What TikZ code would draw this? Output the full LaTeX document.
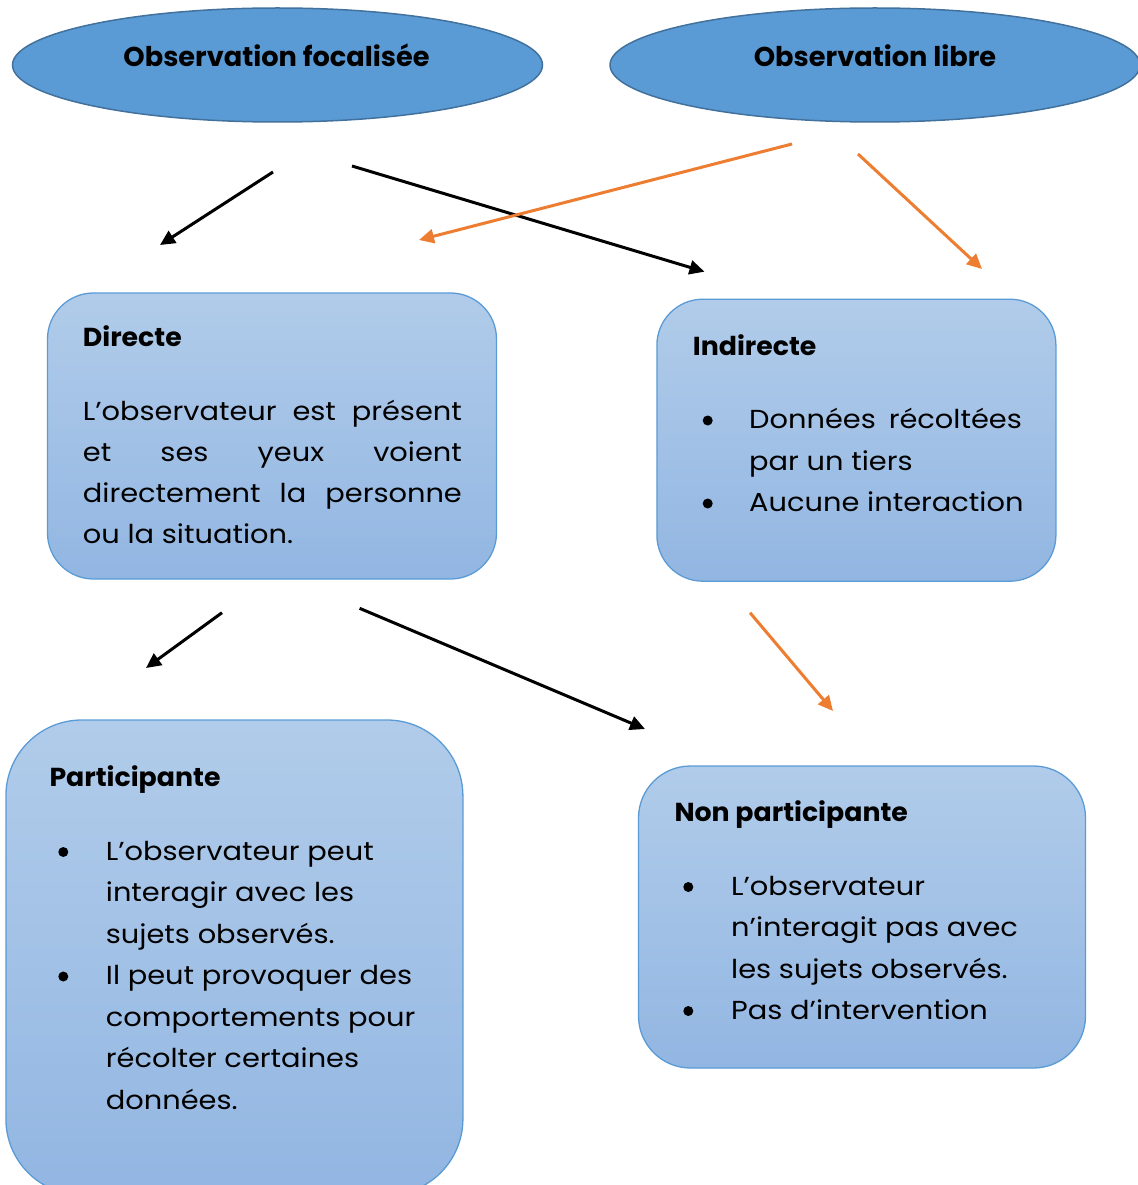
\documentclass[tikz,border=0pt]{standalone}
\usepackage{fontspec}
\setmainfont{Poppins}
\newfontfamily\bodyfont[FakeStretch=1.11]{Poppins}
\newfontfamily\titlefont[FakeStretch=1.03]{Poppins}
\usetikzlibrary{arrows.meta,shapes.geometric}
\definecolor{ellfill}{HTML}{5B9BD5}
\definecolor{elldraw}{HTML}{41719C}
\definecolor{boxtop}{HTML}{B1CCEA}
\definecolor{boxbot}{HTML}{92B6E2}
\definecolor{boxdraw}{HTML}{5B9BD5}
\definecolor{orangearr}{HTML}{ED7D31}
\begin{document}
\begin{tikzpicture}[x=1pt,y=-1pt,
 ellnode/.style={ellipse, draw=elldraw, fill=ellfill, line width=1.5pt, inner sep=0pt},
 boxshape/.style={rectangle, draw=boxdraw, line width=1.3pt, top color=boxtop, bottom color=boxbot, inner sep=0pt},
 elltext/.style={font=\fontsize{27.2}{34}\selectfont\bfseries, anchor=base, inner sep=0pt},
 titletext/.style={font=\titlefont\fontsize{26}{34}\selectfont\bfseries, anchor=base west, inner sep=0pt},
 bodytext/.style={font=\bodyfont\fontsize{26}{41}\selectfont, anchor=base west, inner sep=0pt},
 bulletdot/.style={circle, fill=black, inner sep=0pt, minimum size=10pt},
 blackarrow/.style={draw=black, line width=3pt, -{Triangle[length=15pt,width=14pt]}},
 orangearrow/.style={draw=orangearr, line width=3pt, -{Triangle[length=15pt,width=14pt]}},
]
\useasboundingbox (0,0) rectangle (1137,1185);

% ellipses
\node[ellnode, minimum width=530pt, minimum height=114pt] (focal) at (277.5,65) {};
\node[elltext] (focalt) at (276.5,67) {Observation focalisée};
\node[ellnode, minimum width=530pt, minimum height=114pt] (libre) at (875,65) {};
\node[elltext] (libret) at (875,67) {Observation libre};

% boxes
\node[boxshape, rounded corners=46pt, minimum width=449pt, minimum height=286pt] (directe) at (272,436) {};
\node[boxshape, rounded corners=46pt, minimum width=399pt, minimum height=282pt] (indirecte) at (856.4,440.2) {};
\node[boxshape, rounded corners=76pt, minimum width=457pt, minimum height=475pt] (part) at (234.4,957.5) {};
\node[boxshape, rounded corners=52pt, minimum width=447pt, minimum height=302pt] (nonpart) at (862,917) {};

% Directe text
\node[titletext] (dt) at (82.7,346.7) {Directe};
\node[bodytext] (d1) at (82.7,420) {\makebox[379pt][s]{L’observateur est présent}};
\node[bodytext] (d2) at (82.7,461) {\makebox[379pt][s]{et ses yeux voient}};
\node[bodytext] (d3) at (82.7,502) {\makebox[379pt][s]{directement la personne}};
\node[bodytext] (d4) at (82.7,543) {ou la situation.};

% Indirecte text
\node[titletext] (it) at (692.7,355) {Indirecte};
\node[bulletdot] (ib1) at (707.7,420.5) {};
\node[bodytext] (i1) at (749,428.5) {\makebox[272.7pt][s]{Données récoltées}};
\node[bodytext] (i2) at (749,470) {par un tiers};
\node[bulletdot] (ib2) at (707.7,503.5) {};
\node[bodytext] (i3) at (749,511.5) {Aucune interaction};

% Participante text
\node[titletext] (pt) at (49.3,786.7) {Participante};
\node[bulletdot] (pb1) at (63.3,852) {};
\node[bodytext] (p1) at (105.7,860) {L’observateur peut};
\node[bodytext] (p2) at (105.7,901.5) {interagir avec les};
\node[bodytext] (p3) at (105.7,943) {sujets observés.};
\node[bulletdot] (pb2) at (63.3,976.5) {};
\node[bodytext] (p4) at (105.7,984.5) {Il peut provoquer des};
\node[bodytext] (p5) at (105.7,1026) {comportements pour};
\node[bodytext] (p6) at (105.7,1067.5) {récolter certaines};
\node[bodytext] (p7) at (105.7,1109) {données.};

% Non participante text
\node[titletext] (nt) at (674.3,821) {Non participante};
\node[bulletdot] (nb1) at (688.3,887) {};
\node[bodytext] (n1) at (731,895) {L’observateur};
\node[bodytext] (n2) at (731,936.5) {n’interagit pas avec};
\node[bodytext] (n3) at (731,978) {les sujets observés.};
\node[bulletdot] (nb2) at (688.3,1011) {};
\node[bodytext] (n4) at (731,1019.5) {Pas d’intervention};

% arrow end points
\coordinate (a1s) at (273,172);   \coordinate (a1e) at (160,245);
\coordinate (a2s) at (352,166);   \coordinate (a2e) at (704.5,271.7);
\coordinate (o1s) at (792,144);   \coordinate (o1e) at (419,240);
\coordinate (o2s) at (858,154);   \coordinate (o2e) at (982,269);
\coordinate (a3s) at (222,612.7); \coordinate (a3e) at (146,668);
\coordinate (a4s) at (359.6,608.3); \coordinate (a4e) at (645,729);
\coordinate (o3s) at (750,612.7); \coordinate (o3e) at (833,711);

\draw[blackarrow] (a1s) -- (a1e);
\draw[blackarrow] (a2s) -- (a2e);
\draw[orangearrow] (o1s) -- (o1e);
\draw[orangearrow] (o2s) -- (o2e);
\draw[blackarrow] (a3s) -- (a3e);
\draw[blackarrow] (a4s) -- (a4e);
\draw[orangearrow] (o3s) -- (o3e);
\end{tikzpicture}
\end{document}
